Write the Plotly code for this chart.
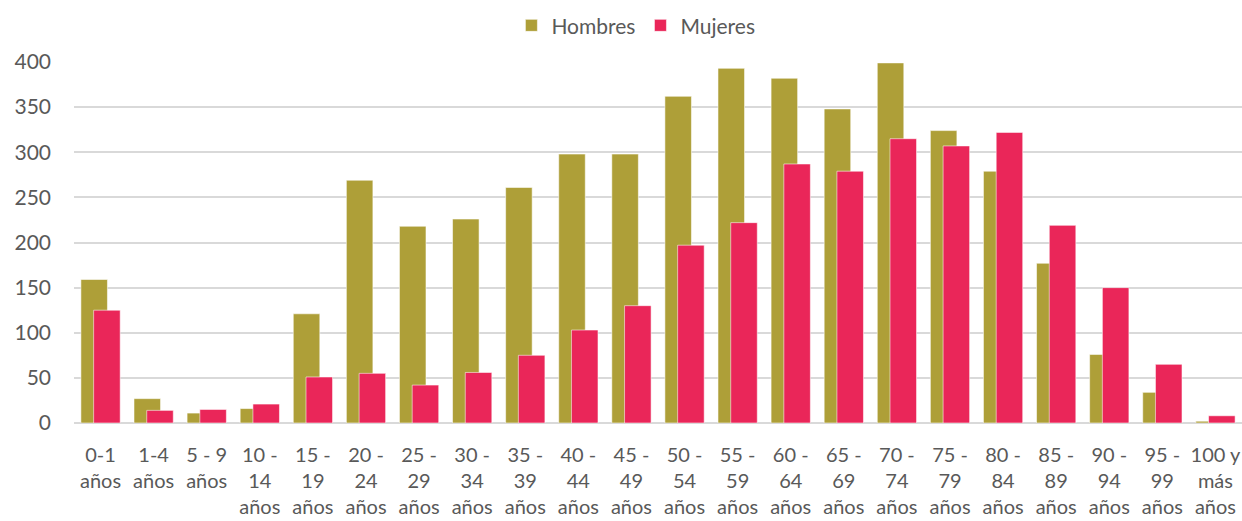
import plotly.graph_objects as go

categories = ["0-1<br>años", "1-4<br>años", "5 - 9<br>años", "10 -<br>14<br>años", "15 -<br>19<br>años",
              "20 -<br>24<br>años", "25 -<br>29<br>años", "30 -<br>34<br>años", "35 -<br>39<br>años",
              "40 -<br>44<br>años", "45 -<br>49<br>años", "50 -<br>54<br>años", "55 -<br>59<br>años",
              "60 -<br>64<br>años", "65 -<br>69<br>años", "70 -<br>74<br>años", "75 -<br>79<br>años",
              "80 -<br>84<br>años", "85 -<br>89<br>años", "90 -<br>94<br>años", "95 -<br>99<br>años",
              "100 y<br>más<br>años"]
hombres = [159, 27, 11, 16, 121, 269, 218, 226, 261, 298, 298, 362, 393, 382, 348, 399, 324, 279, 177, 76, 34, 2]
mujeres = [125, 14, 15, 21, 51, 55, 42, 56, 75, 103, 130, 197, 222, 287, 279, 315, 307, 322, 219, 150, 65, 8]
y_ticks = [0, 50, 100, 150, 200, 250, 300, 350, 400]

FONT = "Lato"
GREY = "#595959"

fig = go.Figure()
fig.add_trace(go.Bar(x=categories, y=hombres, name="Hombres", width=0.5, offset=-0.37,
                     marker=dict(color="#AE9F38", line=dict(color="rgba(255,255,255,0.55)", width=1))))
fig.add_trace(go.Bar(x=categories, y=mujeres, name="Mujeres", width=0.5, offset=-0.13,
                     marker=dict(color="#EA2659", line=dict(color="rgba(255,255,255,0.55)", width=1))))

fig.update_layout(
    width=1242, height=521,
    barmode="overlay",
    plot_bgcolor="white", paper_bgcolor="white",
    margin=dict(l=74, r=0, t=62, b=98, autoexpand=False),
    font=dict(family=FONT, size=21, color=GREY),
    legend=dict(orientation="h", x=0.512, xref="container", xanchor="center", y=0.99, yref="container",
                yanchor="top", font=dict(family=FONT, size=21, color=GREY), traceorder="normal",
                itemwidth=30, tracegroupgap=0),
    showlegend=True,
)
fig.update_yaxes(range=[0, 400], tickvals=y_ticks, showgrid=True, gridcolor="#D9D9D9", gridwidth=1.5,
                 zeroline=True, zerolinecolor="#D9D9D9", zerolinewidth=1.5, showline=False, automargin=False,
                 ticklabelstandoff=22, tickfont=dict(family=FONT, size=21, color=GREY))
fig.update_xaxes(type="category", showgrid=False, showline=False, ticks="", automargin=False,
                 ticklabelstandoff=18, tickfont=dict(family=FONT, size=20, color=GREY), tickangle=0)

fig.write_html("out.html", config={"displayModeBar": False},
               post_script="document.body.style.margin='0';document.body.style.overflow='hidden';")
